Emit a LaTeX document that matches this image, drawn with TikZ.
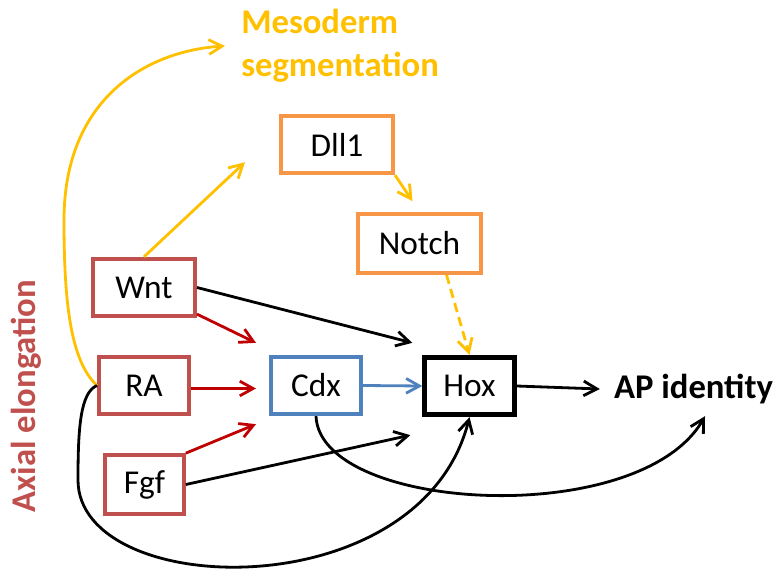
\documentclass[tikz,border=0pt]{standalone}
\usepackage{fontspec}
\setmainfont{Carlito}
\usetikzlibrary{arrows.meta,calc}
\definecolor{boxred}{HTML}{C0504D}
\definecolor{arrred}{HTML}{C00000}
\definecolor{boxorange}{HTML}{F79646}
\definecolor{boxblue}{HTML}{4F81BD}
\definecolor{yel}{HTML}{FFC000}
\begin{document}
\begin{tikzpicture}[x=0.75pt, y=-0.75pt, every node/.append style={font=\fontsize{25}{31}\selectfont},
  gene/.style={draw, line width=3pt, minimum height=43pt, inner sep=0pt},
  label/.style={inner sep=0pt, font=\fontsize{26}{32}\selectfont\bfseries},
  link/.style={line width=2.1pt, -{Straight Barb[length=10pt, width=11pt]}}]
  \useasboundingbox (0,0) rectangle (777,573);
  % genes
  \node[gene, draw=boxred, minimum width=76.5pt] (Wnt) at (144,287.5) {Wnt};
  \node[gene, draw=boxred, minimum width=67.5pt] (RA) at (144,385.5) {RA};
  \node[gene, draw=boxred, minimum width=59pt, minimum height=44pt] (Fgf) at (144.5,484.5) {Fgf};
  \node[gene, draw=boxblue, minimum width=67.5pt] (Cdx) at (316,385.5) {Cdx};
  \node[gene, line width=3.75pt, minimum width=67pt] (Hox) at (469.5,386) {Hox};
  \node[gene, draw=boxorange, minimum width=84pt] (Dll1) at (337,144.5) {Dll1};
  \node[gene, draw=boxorange, minimum width=92pt, minimum height=44pt] (Notch) at (419.5,243.5) {Notch};
  % outcomes
  \node[label] (AP) at (693.5,389) {AP identity};
  \node[label, anchor=west, align=left, text=yel] (Meso) at (241,46) {Mesoderm\\segmentation};
  \node[label, rotate=90, text=boxred] (Axial) at (26,396) {Axial elongation};
  % segmentation clock
  \draw[link, yel] (Wnt.north) -- ($(Dll1.south west)+(-34,-13)$);
  \draw[link, yel] (Dll1.south east) -- ($(Notch.north)+(-7,-11)$);
  \draw[link, yel, dash pattern=on 7pt off 4pt] ($(Notch.south)+(27,0)$) -- (Hox.north);
  \draw[link, yel] (RA.west) .. controls +(-27,-25) and +(0,80) .. (64,220)
    .. controls +(0,-120) and +(-80,5) .. ($(Meso.west)+(-16,0)$);
  % inputs to Cdx and Hox
  \draw[link] (Wnt.east) -- ($(Hox.north west)+(-10,-12)$);
  \draw[link, arrred] ($(Wnt.south east)+(0,-4)$) -- ($(Cdx.north west)+(-13,-12)$);
  \draw[link, arrred] ($(RA.east)+(0,3)$) -- ($(Cdx.west)+(-13,3)$);
  \draw[link, arrred] (Fgf.north east) -- ($(Cdx.south west)+(-13,8)$);
  \draw[link, boxblue] (Cdx.east) -- (Hox.west);
  \draw[link] (Fgf.east) -- ($(Hox.south west)+(-12,18)$);
  \draw[link] (Hox.east) -- ($(AP.west)+(-14,0)$);
  \draw[link] (Cdx.south) .. controls +(4,96) and +(-65,114) .. ($(AP.south)+(11.5,12)$);
  \draw[link] (RA.west) .. controls +(-17,7) and +(0,-50) .. (78,480)
    .. controls +(0,120) and +(-49,193) .. (Hox.south);
\end{tikzpicture}
\end{document}
